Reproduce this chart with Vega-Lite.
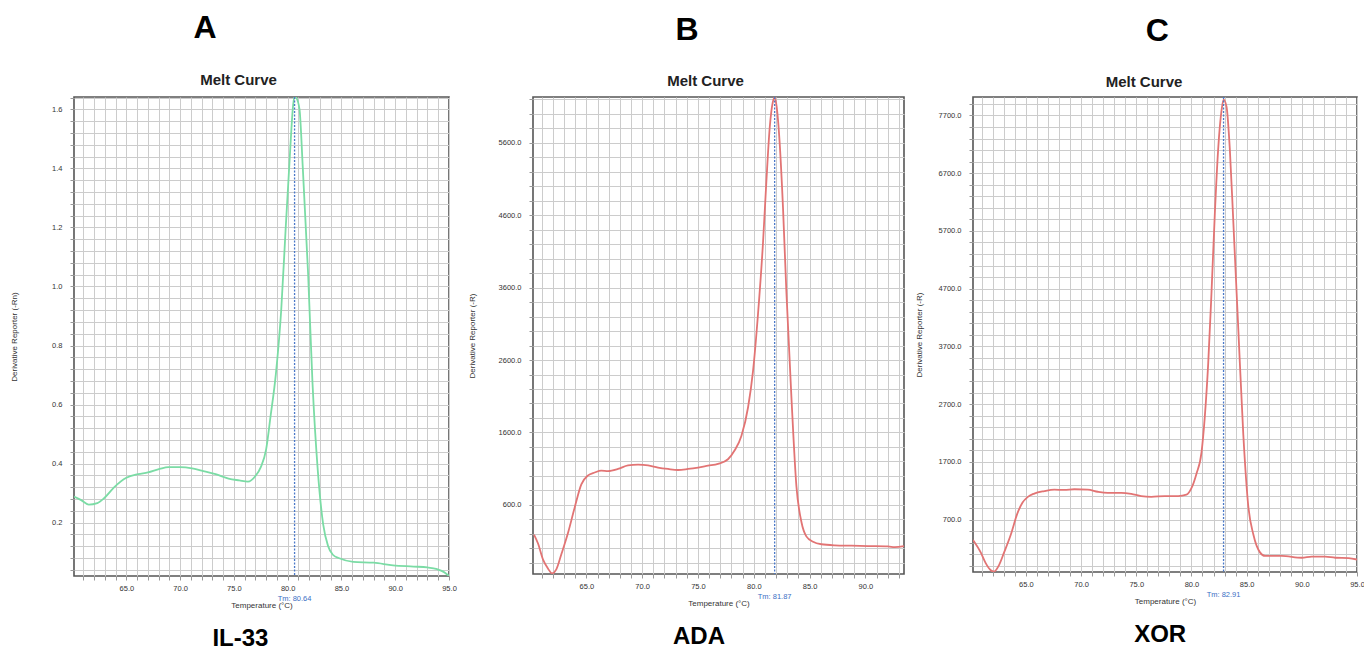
{
  "$schema": "https://vega.github.io/schema/vega-lite/v6.json",
  "background": "white",
  "padding": {"left": 9, "top": 11, "right": 0, "bottom": 0},
  "autosize": {"type": "pad"},
  "datasets": {
    "il33": [
      {"t": 60.13, "d": 0.288}, {"t": 60.8, "d": 0.276}, {"t": 61.5, "d": 0.261}, {"t": 62.3, "d": 0.266},
      {"t": 63.0, "d": 0.285}, {"t": 63.9, "d": 0.321}, {"t": 65.0, "d": 0.352}, {"t": 66.1, "d": 0.364},
      {"t": 67.0, "d": 0.370}, {"t": 68.1, "d": 0.382}, {"t": 68.9, "d": 0.388}, {"t": 70.0, "d": 0.388},
      {"t": 71.1, "d": 0.384}, {"t": 72.0, "d": 0.376}, {"t": 73.3, "d": 0.364}, {"t": 74.5, "d": 0.349},
      {"t": 75.5, "d": 0.343}, {"t": 76.3, "d": 0.339}, {"t": 77.0, "d": 0.358}, {"t": 77.5, "d": 0.388},
      {"t": 78.0, "d": 0.449}, {"t": 78.4, "d": 0.558}, {"t": 78.9, "d": 0.703}, {"t": 79.4, "d": 0.921},
      {"t": 79.8, "d": 1.188}, {"t": 80.2, "d": 1.442}, {"t": 80.5, "d": 1.612}, {"t": 80.64, "d": 1.645},
      {"t": 80.8, "d": 1.640}, {"t": 81.1, "d": 1.600}, {"t": 81.4, "d": 1.406}, {"t": 81.9, "d": 1.042},
      {"t": 82.3, "d": 0.679}, {"t": 82.8, "d": 0.376}, {"t": 83.3, "d": 0.194}, {"t": 83.75, "d": 0.121},
      {"t": 84.2, "d": 0.091}, {"t": 84.8, "d": 0.079}, {"t": 86.1, "d": 0.067}, {"t": 88.0, "d": 0.064},
      {"t": 89.8, "d": 0.055}, {"t": 91.7, "d": 0.051}, {"t": 93.0, "d": 0.048}, {"t": 93.9, "d": 0.042},
      {"t": 94.5, "d": 0.033}, {"t": 95.0, "d": 0.019}
    ],
    "ada": [
      {"t": 60.31, "d": 189}, {"t": 60.67, "d": 65}, {"t": 61.12, "d": -158}, {"t": 61.57, "d": -282},
      {"t": 61.92, "d": -347}, {"t": 62.31, "d": -292}, {"t": 62.76, "d": -84}, {"t": 63.36, "d": 213},
      {"t": 63.95, "d": 560}, {"t": 64.55, "d": 882}, {"t": 65.15, "d": 1006}, {"t": 65.75, "d": 1046},
      {"t": 66.34, "d": 1071}, {"t": 66.94, "d": 1066}, {"t": 67.84, "d": 1095}, {"t": 68.73, "d": 1145},
      {"t": 69.63, "d": 1155}, {"t": 70.53, "d": 1145}, {"t": 71.42, "d": 1115}, {"t": 72.32, "d": 1095},
      {"t": 73.21, "d": 1081}, {"t": 74.11, "d": 1095}, {"t": 75.01, "d": 1115}, {"t": 75.9, "d": 1140},
      {"t": 76.8, "d": 1165}, {"t": 77.69, "d": 1229}, {"t": 78.29, "d": 1353}, {"t": 78.89, "d": 1551},
      {"t": 79.49, "d": 1948}, {"t": 79.93, "d": 2443}, {"t": 80.38, "d": 3236}, {"t": 80.83, "d": 4227},
      {"t": 81.13, "d": 5070}, {"t": 81.43, "d": 5813}, {"t": 81.7, "d": 6160}, {"t": 81.87, "d": 6230},
      {"t": 82.05, "d": 6100}, {"t": 82.32, "d": 5600}, {"t": 82.62, "d": 4700}, {"t": 82.92, "d": 3550},
      {"t": 83.37, "d": 2097}, {"t": 83.82, "d": 858}, {"t": 84.27, "d": 362}, {"t": 84.71, "d": 164},
      {"t": 85.31, "d": 90}, {"t": 86.06, "d": 55}, {"t": 87.25, "d": 40}, {"t": 88.75, "d": 35},
      {"t": 90.24, "d": 30}, {"t": 92.03, "d": 25}, {"t": 92.63, "d": 15}, {"t": 93.46, "d": 30}
    ],
    "xor": [
      {"t": 60.21, "d": 348}, {"t": 60.91, "d": 132}, {"t": 61.36, "d": -54}, {"t": 61.82, "d": -177},
      {"t": 62.12, "d": -200}, {"t": 62.58, "d": -84}, {"t": 63.03, "d": 132}, {"t": 63.64, "d": 441},
      {"t": 64.24, "d": 811}, {"t": 64.7, "d": 996}, {"t": 65.15, "d": 1089}, {"t": 65.76, "d": 1151},
      {"t": 66.67, "d": 1194}, {"t": 67.58, "d": 1219}, {"t": 68.48, "d": 1213}, {"t": 69.39, "d": 1225},
      {"t": 70.61, "d": 1219}, {"t": 71.52, "d": 1182}, {"t": 72.42, "d": 1163}, {"t": 73.64, "d": 1163},
      {"t": 74.55, "d": 1145}, {"t": 75.45, "d": 1108}, {"t": 76.36, "d": 1095}, {"t": 77.58, "d": 1108},
      {"t": 78.79, "d": 1108}, {"t": 79.55, "d": 1132}, {"t": 80.0, "d": 1244}, {"t": 80.45, "d": 1491},
      {"t": 80.91, "d": 1861}, {"t": 81.21, "d": 2479}, {"t": 81.52, "d": 3405}, {"t": 81.82, "d": 4641},
      {"t": 82.12, "d": 6000}, {"t": 82.42, "d": 7111}, {"t": 82.73, "d": 7791}, {"t": 82.91, "d": 7976},
      {"t": 83.18, "d": 7852}, {"t": 83.48, "d": 7111}, {"t": 83.79, "d": 5876}, {"t": 84.24, "d": 4023},
      {"t": 84.7, "d": 2170}, {"t": 85.15, "d": 935}, {"t": 85.61, "d": 441}, {"t": 86.21, "d": 132},
      {"t": 86.67, "d": 70}, {"t": 88.18, "d": 70}, {"t": 90.0, "d": 39}, {"t": 90.91, "d": 58},
      {"t": 92.12, "d": 58}, {"t": 93.03, "d": 39}, {"t": 94.24, "d": 33}, {"t": 95.0, "d": 8}
    ]
  },
  "spacing": 9,
  "bounds": "full",
  "hconcat": [
    {
      "title": {"text": "A", "fontSize": 32, "fontWeight": "bold", "frame": "bounds", "anchor": "middle", "dx": -28.5, "offset": 27},
      "vconcat": [
        {
          "title": {"text": "IL-33", "orient": "bottom", "fontSize": 24, "fontWeight": "bold", "frame": "bounds", "anchor": "middle", "dx": 7, "offset": 17},
          "vconcat": [
            {
              "title": {"text": "Melt Curve", "fontSize": 15, "fontWeight": "bold", "color": "#222", "frame": "group", "anchor": "middle", "dx": -23, "offset": 6},
              "width": 375,
              "height": 479,
              "layer": [
                {
                  "data": {"name": "il33"},
                  "mark": {"type": "line", "color": "#7bdca5", "strokeWidth": 1.8, "interpolate": "monotone", "clip": true},
                  "encoding": {
                    "x": {"field": "t", "type": "quantitative", "scale": {"domain": [60.13, 95], "nice": false, "zero": false},
                      "axis": {"values": [61,62,63,64,65,66,67,68,69,70,71,72,73,74,75,76,77,78,79,80,81,82,83,84,85,86,87,88,89,90,91,92,93,94,95], "tickCount": 500,
                        "labelExpr": "datum.value % 5 === 0 ? format(datum.value, '.1f') : ''", "title": "Temperature (°C)", "titlePadding": 10, "grid": true}},
                    "y": {"field": "d", "type": "quantitative", "scale": {"domain": [0.019, 1.642], "nice": false, "zero": false},
                      "axis": {"values": [0.04,0.08,0.12,0.16,0.2,0.24,0.28,0.32,0.36,0.4,0.44,0.48,0.52,0.56,0.6,0.64,0.68,0.72,0.76,0.8,0.84,0.88,0.92,0.96,1.0,1.04,1.08,1.12,1.16,1.2,1.24,1.28,1.32,1.36,1.4,1.44,1.48,1.52,1.56,1.6,1.64], "tickCount": 500,
                        "labelExpr": "abs(datum.value * 5 - round(datum.value * 5)) < 0.001 ? format(datum.value, '.1f') : ''", "title": "Derivative Reporter (-Rn)", "labelPadding": 8, "titlePadding": 33, "grid": true}}
                  }
                },
                {
                  "data": {"values": [{"tm": 80.64, "label": "Tm: 80.64"}]},
                  "mark": {"type": "rule", "color": "#4a78c8", "strokeDash": [2, 1.5], "strokeWidth": 1.3},
                  "encoding": {"x": {"field": "tm", "type": "quantitative"}}
                },
                {
                  "data": {"values": [{"tm": 80.64, "label": "Tm: 80.64"}]},
                  "mark": {"type": "text", "color": "#3b6fc4", "fontSize": 7.5, "baseline": "middle", "dy": 23},
                  "encoding": {"x": {"field": "tm", "type": "quantitative"}, "y": {"datum": 0.019}, "text": {"field": "label"}}
                }
              ]
            }
          ]
        }
      ]
    },
    {
      "title": {"text": "B", "fontSize": 32, "fontWeight": "bold", "frame": "bounds", "anchor": "middle", "dx": 1, "offset": 27},
      "vconcat": [
        {
          "title": {"text": "ADA", "orient": "bottom", "fontSize": 24, "fontWeight": "bold", "frame": "bounds", "anchor": "middle", "dx": 13, "offset": 17},
          "vconcat": [
            {
              "title": {"text": "Melt Curve", "fontSize": 15, "fontWeight": "bold", "color": "#222", "frame": "group", "anchor": "middle", "dx": -13, "offset": 6},
              "width": 371,
              "height": 477,
              "layer": [
                {
                  "data": {"name": "ada"},
                  "mark": {"type": "line", "color": "#e27474", "strokeWidth": 1.8, "interpolate": "monotone", "clip": true},
                  "encoding": {
                    "x": {"field": "t", "type": "quantitative", "scale": {"domain": [60.22, 93.46], "nice": false, "zero": false},
                      "axis": {"values": [61,62,63,64,65,66,67,68,69,70,71,72,73,74,75,76,77,78,79,80,81,82,83,84,85,86,87,88,89,90,91,92,93], "tickCount": 500,
                        "labelExpr": "datum.value % 5 === 0 ? format(datum.value, '.1f') : ''", "title": "Temperature (°C)", "titlePadding": 10, "grid": true}},
                    "y": {"field": "d", "type": "quantitative", "scale": {"domain": [-356, 6234], "nice": false, "zero": false},
                      "axis": {"values": [-200,0,200,400,600,800,1000,1200,1400,1600,1800,2000,2200,2400,2600,2800,3000,3200,3400,3600,3800,4000,4200,4400,4600,4800,5000,5200,5400,5600,5800,6000,6200], "tickCount": 500,
                        "labelExpr": "(datum.value - 600) % 1000 === 0 ? format(datum.value, '.1f') : ''", "title": "Derivative Reporter (-R)", "labelPadding": 8, "titlePadding": 22, "grid": true}}
                  }
                },
                {
                  "data": {"values": [{"tm": 81.87, "label": "Tm: 81.87"}]},
                  "mark": {"type": "rule", "color": "#4a78c8", "strokeDash": [2, 1.5], "strokeWidth": 1.3},
                  "encoding": {"x": {"field": "tm", "type": "quantitative"}}
                },
                {
                  "data": {"values": [{"tm": 81.87, "label": "Tm: 81.87"}]},
                  "mark": {"type": "text", "color": "#3b6fc4", "fontSize": 7.5, "baseline": "middle", "dy": 23},
                  "encoding": {"x": {"field": "tm", "type": "quantitative"}, "y": {"datum": -356}, "text": {"field": "label"}}
                }
              ]
            }
          ]
        }
      ]
    },
    {
      "title": {"text": "C", "fontSize": 32, "fontWeight": "bold", "frame": "bounds", "anchor": "middle", "dx": 17.5, "offset": 27},
      "vconcat": [
        {
          "title": {"text": "XOR", "orient": "bottom", "fontSize": 24, "fontWeight": "bold", "frame": "bounds", "anchor": "middle", "dx": 20.5, "offset": 17},
          "vconcat": [
            {
              "title": {"text": "Melt Curve", "fontSize": 15, "fontWeight": "bold", "color": "#222", "frame": "group", "anchor": "middle", "dx": -21, "offset": 6},
              "width": 384,
              "height": 475,
              "layer": [
                {
                  "data": {"name": "xor"},
                  "mark": {"type": "line", "color": "#e27474", "strokeWidth": 1.8, "interpolate": "monotone", "clip": true},
                  "encoding": {
                    "x": {"field": "t", "type": "quantitative", "scale": {"domain": [60.21, 95], "nice": false, "zero": false},
                      "axis": {"values": [61,62,63,64,65,66,67,68,69,70,71,72,73,74,75,76,77,78,79,80,81,82,83,84,85,86,87,88,89,90,91,92,93,94,95], "tickCount": 500,
                        "labelExpr": "datum.value % 5 === 0 ? format(datum.value, '.1f') : ''", "title": "Temperature (°C)", "titlePadding": 10, "grid": true}},
                    "y": {"field": "d", "type": "quantitative", "scale": {"domain": [-208, 8020], "nice": false, "zero": false},
                      "axis": {"values": [-100,100,300,500,700,900,1100,1300,1500,1700,1900,2100,2300,2500,2700,2900,3100,3300,3500,3700,3900,4100,4300,4500,4700,4900,5100,5300,5500,5700,5900,6100,6300,6500,6700,6900,7100,7300,7500,7700,7900], "tickCount": 500,
                        "labelExpr": "(datum.value - 700) % 1000 === 0 ? format(datum.value, '.1f') : ''", "title": "Derivative Reporter (-R)", "labelPadding": 8, "titlePadding": 15, "grid": true}}
                  }
                },
                {
                  "data": {"values": [{"tm": 82.91, "label": "Tm: 82.91"}]},
                  "mark": {"type": "rule", "color": "#4a78c8", "strokeDash": [2, 1.5], "strokeWidth": 1.3},
                  "encoding": {"x": {"field": "tm", "type": "quantitative"}}
                },
                {
                  "data": {"values": [{"tm": 82.91, "label": "Tm: 82.91"}]},
                  "mark": {"type": "text", "color": "#3b6fc4", "fontSize": 7.5, "baseline": "middle", "dy": 23},
                  "encoding": {"x": {"field": "tm", "type": "quantitative"}, "y": {"datum": -208}, "text": {"field": "label"}}
                }
              ]
            }
          ]
        }
      ]
    }
  ],
  "config": {
    "font": "Liberation Sans",
    "view": {"stroke": "#555555", "strokeWidth": 1.6},
    "title": {"font": "Liberation Sans", "color": "#000000"},
    "axis": {
      "labelFont": "Liberation Sans", "labelFontSize": 7.5, "labelColor": "#333333",
      "titleFont": "Liberation Sans", "titleFontSize": 8, "titleFontWeight": "normal", "titleColor": "#333333",
      "gridColor": "#cccccc", "gridWidth": 1, "tickColor": "#999999", "tickSize": 4, "labelPadding": 4,
      "domain": false, "labelOverlap": false, "labelFlush": false, "labelBound": false
    }
  }
}
